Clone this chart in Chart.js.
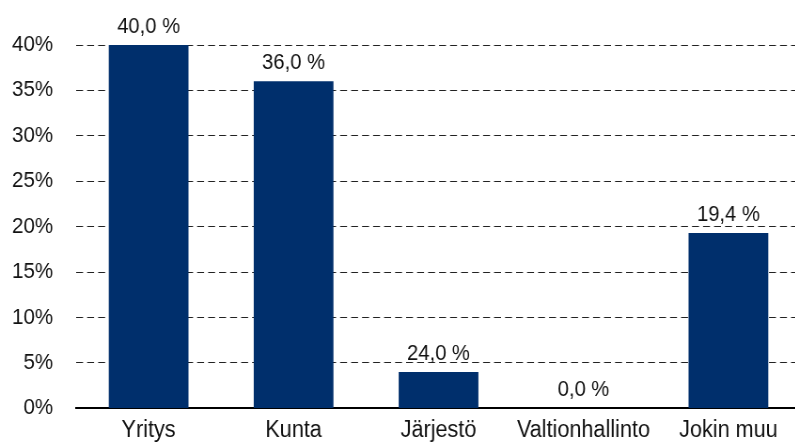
<!DOCTYPE html>
<html>
<head>
<meta charset="utf-8">
<script src="https://cdn.jsdelivr.net/npm/chart.js@4/dist/chart.umd.min.js"></script>
<style>
  html, body { margin:0; padding:0; background:#fff; overflow:hidden; }
  #wrap { position:absolute; left:0; top:0; width:852px; height:446px; transform:scaleX(0.94); transform-origin:0 0; }
</style>
</head>
<body>
<div id="wrap"><canvas id="c"></canvas></div>
<script>
const categories = ["Yritys", "Kunta", "Järjestö", "Valtionhallinto", "Jokin muu"];
const values = [40.0, 36.0, 4.0, 0.0, 19.3];
const valueLabels = ["40,0 %", "36,0 %", "24,0 %", "0,0 %", "19,4 %"];
const yTicks = [0, 5, 10, 15, 20, 25, 30, 35, 40];

const FONT = "'Liberation Sans', Arial, sans-serif";

const labelPlugin = {
  id: 'valueLabels',
  afterDatasetsDraw(chart) {
    const ctx = chart.ctx;
    const meta = chart.getDatasetMeta(0);
    ctx.save();
    ctx.font = "21.5px " + FONT;
    ctx.fillStyle = "#111";
    ctx.textAlign = "center";
    ctx.textBaseline = "alphabetic";
    meta.data.forEach((bar, i) => {
      ctx.fillText(valueLabels[i], bar.x, bar.y - 12);
    });
    ctx.restore();
  }
};

new Chart(document.getElementById('c'), {
  type: 'bar',
  data: {
    labels: categories,
    datasets: [{
      data: values,
      backgroundColor: '#002F6C',
      borderWidth: 0,
      barPercentage: 0.55,
      categoryPercentage: 1.0
    }]
  },
  options: {
    responsive: true,
    maintainAspectRatio: false,
    animation: false,
    layout: { padding: { top: 45, right: 0, left: 0, bottom: 0 } },
    plugins: { legend: { display: false }, tooltip: { enabled: false } },
    scales: {
      x: {
        grid: { display: false, drawTicks: false },
        border: { display: true, color: '#000', width: 2 },
        ticks: { color: '#111', font: { family: FONT, size: 23 }, padding: 8, maxRotation: 0, autoSkip: false },
        afterFit(scale) { scale.height = 37; }
      },
      y: {
        min: 0, max: 40,
        afterBuildTicks(scale) { scale.ticks = yTicks.map(v => ({ value: v })); },
        grid: { color: '#222', lineWidth: 1, drawTicks: false },
        border: { display: false, dash: [7.4, 4.3] },
        ticks: { color: '#111', font: { family: FONT, size: 21.8 }, padding: 24.5, callback: v => v + '%' },
        afterFit(scale) { scale.width = 81; }
      }
    }
  },
  plugins: [labelPlugin]
});
</script>
</body>
</html>
